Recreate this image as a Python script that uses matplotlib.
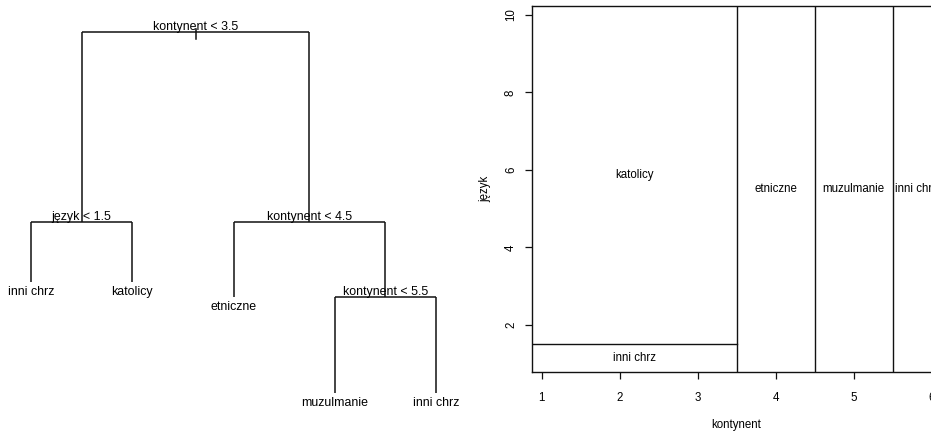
import matplotlib
matplotlib.use("Agg")
import matplotlib.pyplot as plt

plt.rcParams['font.family'] = ['Liberation Sans', 'DejaVu Sans']

# ---------------- tree data (R-style node numbering: children of n are 2n, 2n+1)
node_ids = [1, 2, 3, 4, 5, 6, 7, 14, 15]
node_labels = ["kontynent < 3.5", "język < 1.5", "kontynent < 4.5",
               "inni chrz", "katolicy", "etniczne", "kontynent < 5.5",
               "muzulmanie", "inni chrz"]
node_height = [36.1, 17.17, 17.17, 11.17, 11.17, 9.67, 9.67, 0.0, 0.0]

# ---------------- partition data
split_x = [3.5, 4.5, 5.5]          # kontynent splits (full height)
split_y = [1.5]                    # język split (left of 3.5)
region_labels = ["inni chrz", "katolicy", "etniczne", "muzulmanie", "inni chrz"]
region_x = [(None, 3.5), (None, 3.5), (3.5, 4.5), (4.5, 5.5), (5.5, None)]
region_y = [(None, 1.5), (1.5, None), (None, None), (None, None), (None, None)]
x_ticks = [1, 2, 3, 4, 5, 6]
y_ticks = [2, 4, 6, 8, 10]
x_label = "kontynent"
y_label = "język"

W, H = 931, 432
fig = plt.figure(figsize=(W / 100, H / 100), dpi=100)
fig.patch.set_facecolor("white")

# ================= left: tree =================
axt = fig.add_axes([0, 0, 465 / W, 1])
axt.set_axis_off()
axt.set_xlim(0.694, 5.286)
axt.set_ylim(-3.87, 39.33)

height = dict(zip(node_ids, node_height))
label = dict(zip(node_ids, node_labels))
xpos = {}
counter = [0]


def layout(n):
    if 2 * n not in height:
        counter[0] += 1
        xpos[n] = counter[0]
    else:
        xl = layout(2 * n)
        xr = layout(2 * n + 1)
        xpos[n] = (xl + xr) / 2
    return xpos[n]


layout(1)
lc = "#111111"
lw = 1.1
tfs = 8.9
for n in node_ids:
    if 2 * n in height:
        l, r = 2 * n, 2 * n + 1
        axt.plot([xpos[l], xpos[r]], [height[n], height[n]], color=lc, lw=lw,
                 solid_capstyle="butt")
        for c in (l, r):
            axt.plot([xpos[c], xpos[c]], [height[n], height[c]], color=lc, lw=lw,
                     solid_capstyle="butt")
        axt.annotate(label[n], (xpos[n], height[n]), xytext=(0, 2),
                     textcoords="offset pixels", ha="center", va="baseline",
                     fontsize=tfs)
    else:
        axt.annotate(label[n], (xpos[n], height[n]), xytext=(0, -4),
                     textcoords="offset pixels", ha="center", va="top",
                     fontsize=tfs)
# root stub
axt.plot([xpos[1], xpos[1]], [height[1] + 0.3, height[1] - 0.7], color=lc, lw=lw)

# ================= right: partition =================
xlo, xhi = 0.872, 6.11
ylo, yhi = 0.779, 10.232
left_px, bottom_px, top_px = 531.7, 372.3, 6.0
px_per_x = 78.0
width_px = (xhi - xlo) * px_per_x
axp = fig.add_axes([left_px / W, (H - bottom_px) / H, width_px / W,
                    (bottom_px - top_px) / H])
axp.set_xlim(xlo, xhi)
axp.set_ylim(ylo, yhi)
for s in axp.spines.values():
    s.set_linewidth(1.0)
    s.set_color(lc)

for xs in split_x:
    axp.plot([xs, xs], [ylo, yhi], color=lc, lw=1.0)
for ys in split_y:
    axp.plot([xlo, split_x[0]], [ys, ys], color=lc, lw=1.0)

pfs = 8.3
for lab, (x0, x1), (y0, y1) in zip(region_labels, region_x, region_y):
    x0 = xlo if x0 is None else x0
    x1 = xhi if x1 is None else x1
    y0 = ylo if y0 is None else y0
    y1 = yhi if y1 is None else y1
    axp.text((x0 + x1) / 2, (y0 + y1) / 2, lab, ha="center", va="center",
             fontsize=pfs)

axp.set_xticks(x_ticks)
axp.set_xticklabels([str(t) for t in x_ticks])
axp.set_yticks(y_ticks)
axp.set_yticklabels([str(t) for t in y_ticks], rotation=90, va="center")
axp.tick_params(axis="both", direction="out", length=5.1, width=0.9,
                labelsize=pfs, color=lc)
axp.tick_params(axis="x", pad=9.1)
axp.tick_params(axis="y", pad=5.5)

axp.set_xlabel(x_label, fontsize=pfs)
axp.xaxis.label.set_va("center")
axp.xaxis.set_label_coords(0.5, (bottom_px - 425) / (bottom_px - top_px))
axp.set_ylabel(y_label, fontsize=pfs)
axp.yaxis.label.set_va("center")
axp.yaxis.set_label_coords((485 - left_px) / width_px, 0.5)

fig.savefig("out.png", dpi=100)
